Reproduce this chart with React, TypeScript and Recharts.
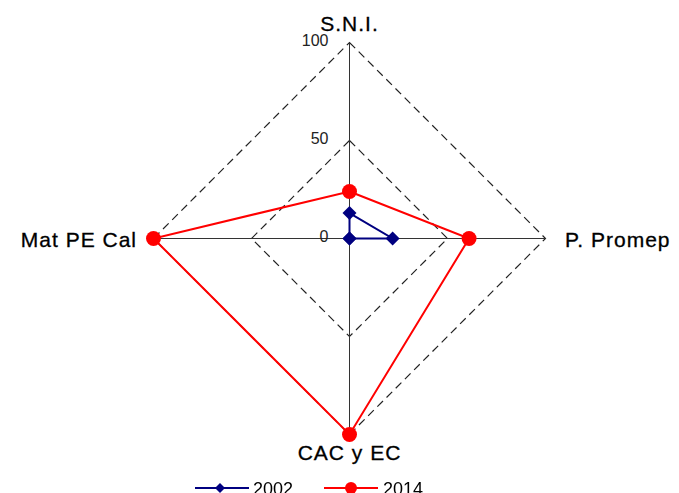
import React from "react";
import { Legend, PolarAngleAxis, PolarGrid, PolarRadiusAxis, Radar, RadarChart } from "recharts";

const categories = ["S.N.I.", "P. Promep", "CAC y EC", "Mat PE Cal"];
const values2002 = [13, 22, 0, 0];
const values2014 = [24, 61, 100, 100];
const radiusTicks = [0, 50, 100];

const data = categories.map((name, i) => ({ name, y2002: values2002[i], y2014: values2014[i] }));

const FONT = "'Liberation Sans', Arial, sans-serif";
const CX = 349.5;
const CY = 238.5;

function AngleTick(props: any) {
  const { x, y, payload } = props;
  const dx = x - CX;
  const dy = y - CY;
  let anchor: "start" | "middle" | "end" = "middle";
  let tx = x;
  let ty = y;
  if (Math.abs(dx) < 1) {
    ty = dy < 0 ? 23 : 452;
  } else if (dx > 0) {
    anchor = "start";
    tx = 565;
    ty = y + 1;
  } else {
    anchor = "end";
    tx = 137;
    ty = y + 1;
  }
  return (
    <text x={tx} y={ty} textAnchor={anchor} dominantBaseline="central" fontSize={21} letterSpacing={1} stroke="#000" strokeWidth={0.3} fill="#000" fontFamily={FONT}>
      {payload.value}
    </text>
  );
}

function RadiusTick(props: any) {
  const { x, y, payload } = props;
  return (
    <text x={x - 21} y={y - 2} textAnchor="end" dominantBaseline="central" fontSize={16} fill="#222" fontFamily={FONT}>
      {payload.value}
    </text>
  );
}

function Diamond(props: any) {
  const { cx, cy } = props;
  const s = 7;
  return <path key={`d-${props.index}`} d={`M${cx},${cy - s}L${cx + s},${cy}L${cx},${cy + s}L${cx - s},${cy}Z`} fill="#000080" />;
}

function RedDot(props: any) {
  const { cx, cy } = props;
  return <circle key={`c-${props.index}`} cx={cx} cy={cy} r={7.5} fill="#ff0000" />;
}

function LegendContent() {
  return (
    <svg width={679} height={30} style={{ overflow: "visible" }}>
      <line x1={195} x2={249} y1={10} y2={10} stroke="#000080" strokeWidth={2} />
      <path d="M220,5L225,10L220,15L215,10Z" fill="#000080" />
      <text x={253} y={17} fontSize={18} fontFamily={FONT} fill="#000">2002</text>
      <line x1={324} x2={378} y1={10} y2={10} stroke="#ff0000" strokeWidth={2} />
      <circle cx={351} cy={10} r={6} fill="#ff0000" />
      <text x={383} y={17} fontSize={18} fontFamily={FONT} fill="#000">2014</text>
    </svg>
  );
}

export default function App() {
  return (
    <div style={{ position: "fixed", left: 0, top: 0, background: "#fff" }}>
      <RadarChart width={679} height={493} data={data} cx={CX} cy={CY} outerRadius={196} margin={{ top: 0, right: 0, bottom: 0, left: 0 }}>
        <PolarGrid gridType="polygon" radialLines={false} stroke="#222" strokeWidth={1.2} strokeDasharray="8 5" />
        <PolarGrid gridType="polygon" polarRadius={[0]} stroke="#333" />
        <PolarAngleAxis dataKey="name" tick={<AngleTick />} axisLine={false} tickLine={false} />
        <PolarRadiusAxis angle={90} domain={[0, 100]} ticks={radiusTicks as any} tickCount={3} axisLine={false} tickLine={false} tick={<RadiusTick />} />
        <Radar dataKey="y2002" name="2002" stroke="#000080" strokeWidth={2} fill="none" fillOpacity={0} dot={Diamond} isAnimationActive={false} />
        <Radar dataKey="y2014" name="2014" stroke="#ff0000" strokeWidth={2} fill="none" fillOpacity={0} dot={RedDot} isAnimationActive={false} />
        <Legend content={<LegendContent />} wrapperStyle={{ position: "absolute", left: 0, top: 478, width: 679 }} />
      </RadarChart>
    </div>
  );
}
